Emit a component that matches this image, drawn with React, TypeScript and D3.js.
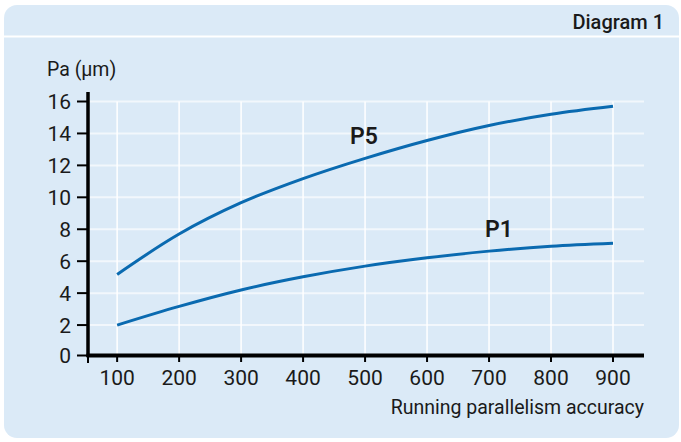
import React from "react";
import * as d3 from "d3";

const xValues = [100, 200, 300, 400, 500, 600, 700, 800, 900];
const p5Values = [5.17, 7.7, 9.66, 11.17, 12.44, 13.56, 14.5, 15.2, 15.7];
const p1Values = [2.0, 3.17, 4.2, 5.02, 5.69, 6.21, 6.63, 6.94, 7.13];
const xTicks = [100, 200, 300, 400, 500, 600, 700, 800, 900];
const yTicks = [0, 2, 4, 6, 8, 10, 12, 14, 16];
const title = "Diagram 1";
const yLabel = "Pa (µm)";
const xLabel = "Running parallelism accuracy";
const seriesLabels = [
  { name: "P5", x: 498, y: 13.35 },
  { name: "P1", x: 716, y: 7.5 },
];

const W = 681;
const H = 442;
const FONT = "Roboto, 'Open Sans', sans-serif";
const TEXT = "#1a1a1a";
const LINE = "#0a6ab0";
const PANEL = "#dbeaf7";

export default function App() {
  const x = d3.scaleLinear().domain([53, 950]).range([88, 644]);
  const y = d3.scaleLinear().domain([0, 16]).range([357, 101.5]);
  const axisY = 355.5;
  const line = d3
    .line<number>()
    .x((_, i) => x(xValues[i]))
    .y((d) => y(d))
    .curve(d3.curveCatmullRom.alpha(0.5));

  return (
    <svg
      width={W}
      height={H}
      style={{ position: "absolute", left: 0, top: 0, background: "#fff" }}
      fontFamily={FONT}
    >
      <rect x={4} y={5} width={675} height={433} rx={13} ry={13} fill={PANEL} />
      <line x1={4} x2={679} y1={36.5} y2={36.5} stroke="#ffffff" strokeWidth={2} />
      <text
        x={664}
        y={29}
        textAnchor="end"
        fontSize={20}
        fontWeight={500}
        fill={TEXT}
      >
        {title}
      </text>

      {/* grid */}
      {yTicks
        .filter((t) => t > 0)
        .map((t) => (
          <line
            key={"gy" + t}
            x1={88}
            x2={644}
            y1={y(t)}
            y2={y(t)}
            stroke="#f2f7fc"
            strokeWidth={2}
          />
        ))}
      {xTicks.map((t) => (
        <line
          key={"gx" + t}
          x1={x(t)}
          x2={x(t)}
          y1={y(16)}
          y2={axisY}
          stroke="#ffffff"
          strokeWidth={1.5}
        />
      ))}

      {/* series */}
      <path d={line(p5Values) || ""} fill="none" stroke={LINE} strokeWidth={3} />
      <path d={line(p1Values) || ""} fill="none" stroke={LINE} strokeWidth={3} />
      {seriesLabels.map((s) => (
        <text
          key={s.name}
          x={x(s.x)}
          y={y(s.y)}
          textAnchor="middle"
          fontSize={23}
          fontWeight={600}
          fill={TEXT}
        >
          {s.name}
        </text>
      ))}

      {/* axes */}
      <line x1={88} x2={88} y1={92} y2={axisY + 1.5} stroke="#000" strokeWidth={3.5} />
      <line x1={86.5} x2={644} y1={axisY} y2={axisY} stroke="#000" strokeWidth={4} />
      {yTicks.map((t) => {
        const yy = t === 0 ? axisY : y(t);
        return (
          <g key={"yt" + t}>
            <line x1={77} x2={88} y1={yy} y2={yy} stroke="#000" strokeWidth={2} />
            <text
              x={71}
              y={yy}
              dy="0.36em"
              textAnchor="end"
              fontSize={21}
              fill={TEXT}
            >
              {t}
            </text>
          </g>
        );
      })}
      <line x1={88} x2={88} y1={axisY} y2={363} stroke="#000" strokeWidth={2} />
      {xTicks.map((t) => (
        <g key={"xt" + t}>
          <line x1={x(t)} x2={x(t)} y1={axisY} y2={362} stroke="#000" strokeWidth={2} />
          <text
            x={x(t)}
            y={385}
            textAnchor="middle"
            fontSize={21}
            fill={TEXT}
          >
            {t}
          </text>
        </g>
      ))}
      <text x={47} y={76} fontSize={19.5} fill={TEXT}>
        {yLabel}
      </text>
      <text x={644} y={414} textAnchor="end" fontSize={19.5} fill={TEXT}>
        {xLabel}
      </text>
    </svg>
  );
}
